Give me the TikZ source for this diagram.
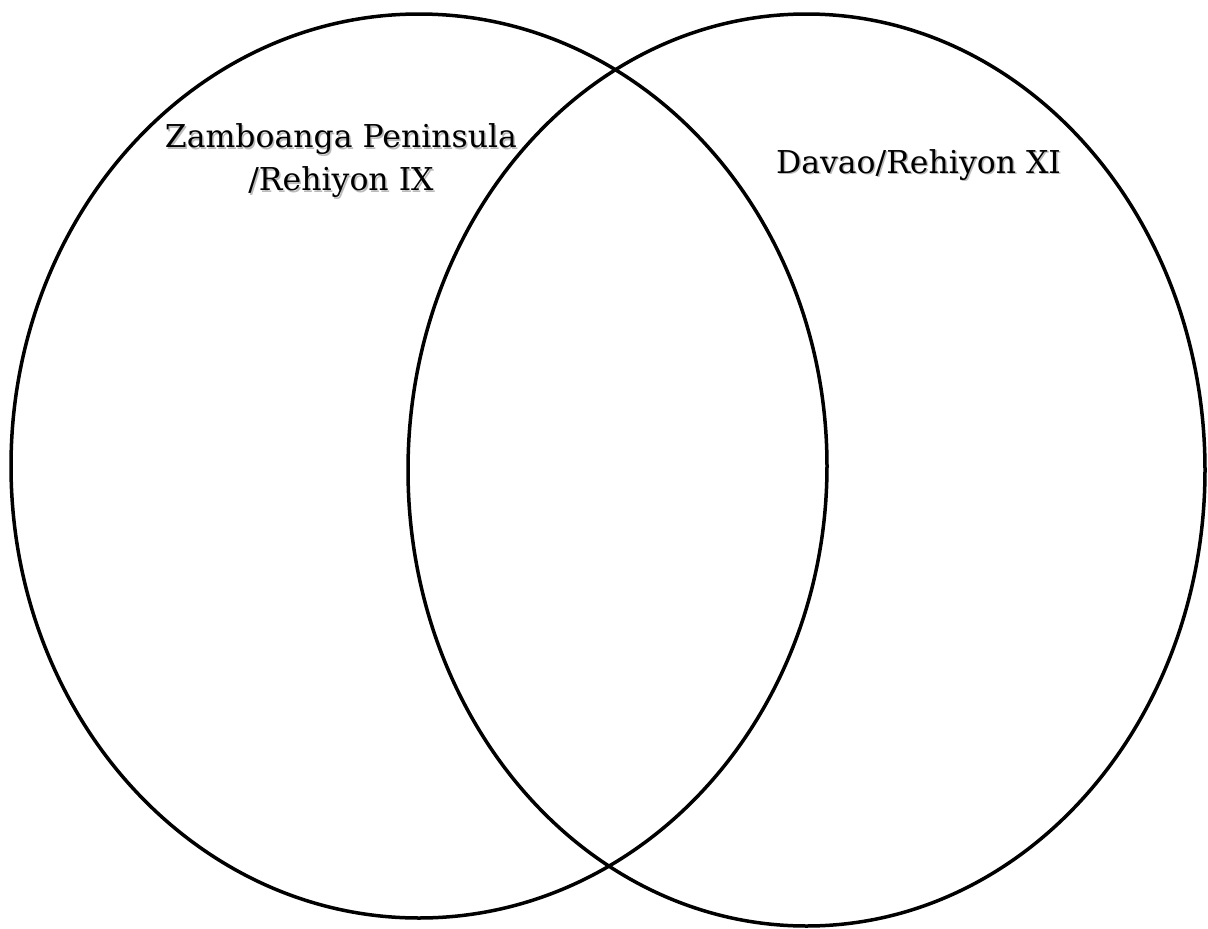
\documentclass[tikz,border=0pt]{standalone}
\usepackage{fontspec}
\setmainfont{DejaVu Serif}
\usetikzlibrary{shapes.geometric}
\tikzset{
  region/.style={ellipse, draw=black, line width=3.5pt, inner sep=0pt, outer sep=0pt},
  shadowtext/.style={text=black!45, opacity=0.6, align=center, font=\fontsize{31.5}{43}\selectfont},
  labeltext/.style={text=black, align=center, font=\fontsize{31.5}{43}\selectfont}
}
\begin{document}
\begin{tikzpicture}[x=1pt,y=-1pt]
\useasboundingbox[fill=white] (0,0) rectangle (1208,929);
\node[region, minimum width=816pt, minimum height=904pt] (L) at (419,466) {};
\node[region, minimum width=797pt, minimum height=912pt] (R) at (806.5,470) {};
\node[shadowtext] (Ls) at (342.5,162.5) {Zamboanga Peninsula\\/Rehiyon IX};
\node[labeltext] (Lt) at (341,161) {Zamboanga Peninsula\\/Rehiyon IX};
\node[shadowtext] (Rs) at (920,166.5) {Davao/Rehiyon XI};
\node[labeltext] (Rt) at (918.5,165) {Davao/Rehiyon XI};
\end{tikzpicture}
\end{document}
